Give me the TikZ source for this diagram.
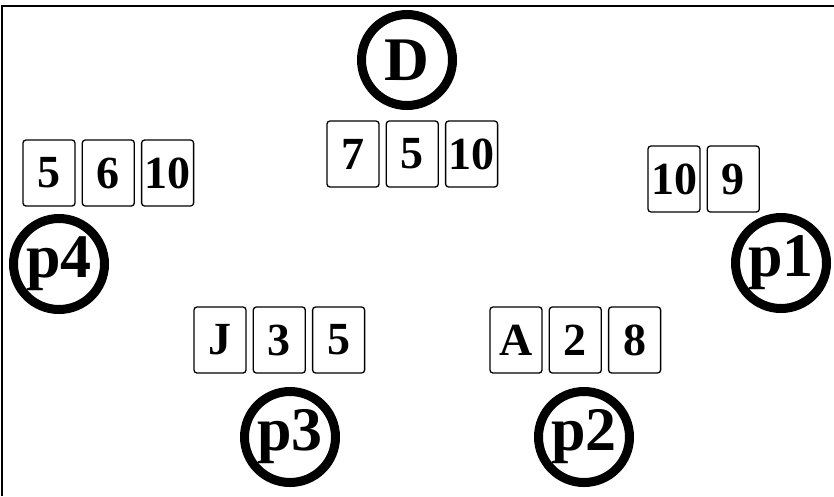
\documentclass[tikz,border=0pt]{standalone}
\usepackage{fontspec}
\setmainfont{Liberation Serif}
\usetikzlibrary{positioning}

\begin{document}
\begin{tikzpicture}[x=1pt, y=-1pt, node distance=6pt,
  card/.style={draw, rounded corners=3pt, line width=1.3pt, minimum width=52pt, minimum height=66pt, inner sep=0pt, font=\fontsize{46}{46}\selectfont\bfseries},
  seat/.style={draw, circle, line width=9pt, minimum size=91pt, inner sep=0pt, font=\fontsize{62}{62}\selectfont\bfseries}]
  \useasboundingbox (0,0) rectangle (834,496);
  \draw[line width=1.5pt] (2,496) -- (2,6) -- (834,6);
  % dealer
  \node[seat] (dealer) at (407,60) {D};
  \node[card] (d1) at (353,154) {7};
  \node[card, right=of d1] (d2) {5};
  \node[card, right=of d2] (d3) {10};
  % players, counter-clockwise from the right
  \node[seat] (p1) at (781,263) {p1};
  \node[card] (p1a) at (674,179) {10};
  \node[card, right=of p1a] (p1b) {9};
  \node[seat] (p2) at (584,437) {p2};
  \node[card] (p2a) at (516,340) {A};
  \node[card, right=of p2a] (p2b) {2};
  \node[card, right=of p2b] (p2c) {8};
  \node[seat] (p3) at (290,437) {p3};
  \node[card] (p3a) at (220,340) {J};
  \node[card, right=of p3a] (p3b) {3};
  \node[card, right=of p3b] (p3c) {5};
  \node[seat] (p4) at (59,264) {p4};
  \node[card] (p4a) at (49,173) {5};
  \node[card, right=of p4a] (p4b) {6};
  \node[card, right=of p4b] (p4c) {10};
\end{tikzpicture}
\end{document}
